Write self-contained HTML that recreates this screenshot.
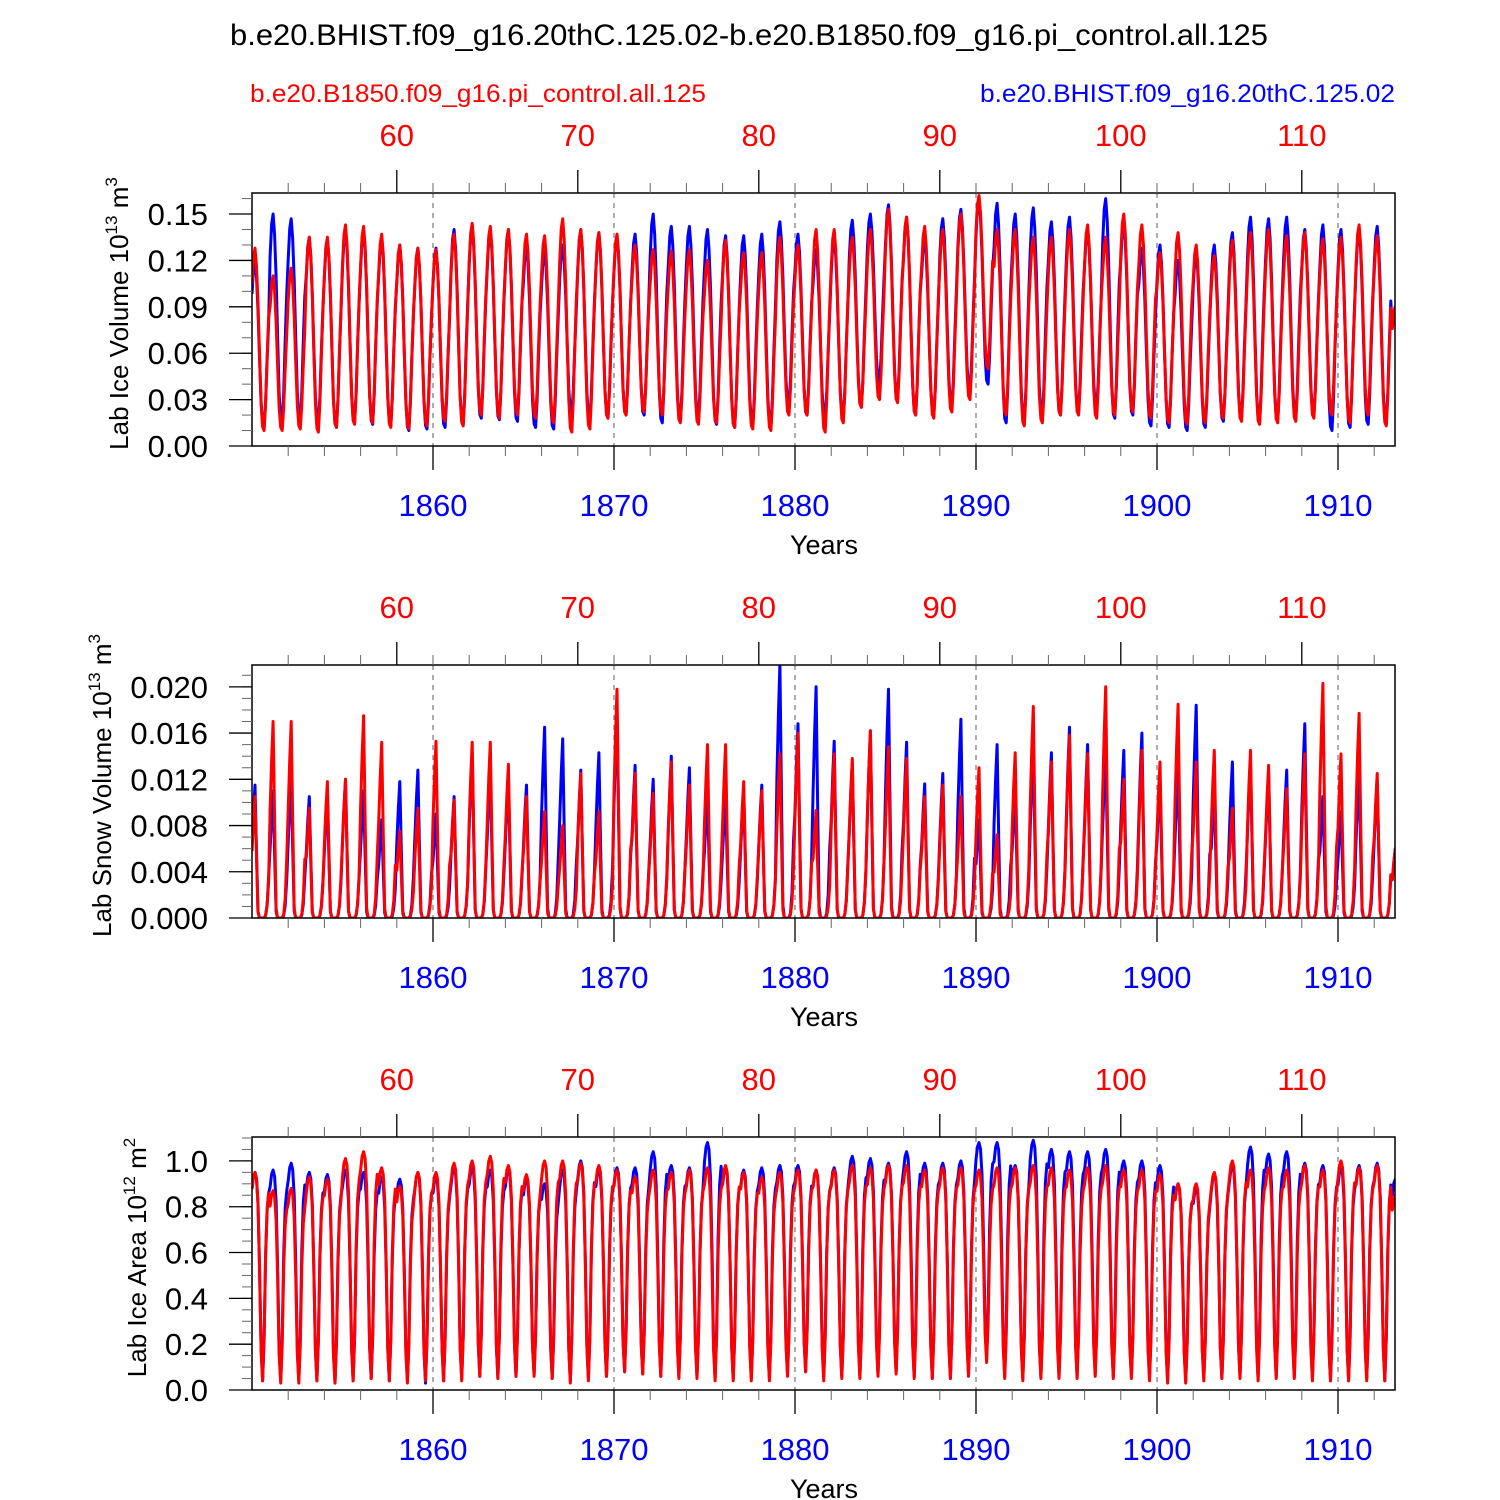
<!DOCTYPE html>
<html><head><meta charset="utf-8">
<style>
html,body{margin:0;padding:0;background:#fff;}
svg{display:block;font-family:"Liberation Sans",Arial,sans-serif;}
</style></head>
<body>
<svg id="chart" width="1500" height="1500" viewBox="0 0 1500 1500" xmlns="http://www.w3.org/2000/svg">
<text x="230" y="45" font-size="30" textLength="1038" lengthAdjust="spacingAndGlyphs">b.e20.BHIST.f09_g16.20thC.125.02-b.e20.B1850.f09_g16.pi_control.all.125</text>
<text x="250" y="102" font-size="25" fill="#ff0000" textLength="456" lengthAdjust="spacingAndGlyphs">b.e20.B1850.f09_g16.pi_control.all.125</text>
<text x="980" y="102" font-size="25" fill="#0000ff" textLength="415" lengthAdjust="spacingAndGlyphs">b.e20.BHIST.f09_g16.20thC.125.02</text>
<g id="panels"></g>
</svg>
<script>
// ----- data: years, per-year seasonal peak/trough -----
const years = [];
for (let y = 1850; y <= 1913; y++) years.push(y);
const bottomTicks = [1860,1870,1880,1890,1900,1910];
const topTicks = [60,70,80,90,100,110];

const iceBluePeak = [0.12,0.15,0.147,0.135,0.134,0.14,0.14,0.135,0.13,0.128,0.128,0.14,0.142,0.14,0.14,0.13,0.127,0.13,0.14,0.138,0.136,0.137,0.15,0.142,0.142,0.14,0.136,0.136,0.137,0.145,0.137,0.127,0.135,0.146,0.15,0.156,0.148,0.135,0.147,0.153,0.16,0.157,0.15,0.154,0.145,0.148,0.14,0.16,0.145,0.128,0.13,0.12,0.125,0.13,0.138,0.148,0.147,0.148,0.14,0.143,0.14,0.14,0.142,0.09];
const iceBlueLow = [0.012,0.014,0.015,0.014,0.012,0.015,0.014,0.013,0.01,0.011,0.012,0.014,0.018,0.017,0.016,0.012,0.011,0.02,0.016,0.018,0.02,0.02,0.015,0.016,0.017,0.014,0.012,0.013,0.012,0.025,0.02,0.018,0.018,0.025,0.04,0.03,0.02,0.02,0.025,0.035,0.04,0.015,0.015,0.018,0.02,0.022,0.024,0.018,0.02,0.013,0.012,0.01,0.012,0.016,0.018,0.015,0.016,0.018,0.02,0.01,0.012,0.014,0.015,0.02];
const iceRedPeak = [0.128,0.11,0.115,0.135,0.135,0.143,0.142,0.137,0.13,0.128,0.127,0.137,0.144,0.142,0.14,0.137,0.136,0.147,0.14,0.138,0.137,0.13,0.127,0.126,0.127,0.12,0.133,0.125,0.125,0.135,0.13,0.14,0.14,0.135,0.14,0.153,0.148,0.142,0.14,0.15,0.162,0.14,0.14,0.135,0.135,0.14,0.143,0.135,0.15,0.143,0.125,0.138,0.13,0.123,0.133,0.138,0.14,0.136,0.138,0.134,0.135,0.143,0.136,0.09];
const iceRedLow = [0.01,0.01,0.011,0.009,0.012,0.014,0.015,0.012,0.011,0.013,0.016,0.013,0.02,0.018,0.02,0.018,0.015,0.009,0.011,0.018,0.02,0.022,0.02,0.015,0.014,0.015,0.012,0.011,0.01,0.02,0.02,0.009,0.015,0.025,0.03,0.028,0.02,0.018,0.022,0.03,0.05,0.02,0.013,0.015,0.02,0.02,0.018,0.02,0.022,0.018,0.015,0.014,0.015,0.018,0.016,0.014,0.015,0.016,0.018,0.02,0.015,0.02,0.013,0.02];

const snowBluePeak = [0.0115,0.011,0.012,0.0105,0.0105,0.012,0.011,0.0085,0.0118,0.0128,0.009,0.0105,0.0143,0.0128,0.012,0.0115,0.0165,0.0155,0.0128,0.0143,0.0178,0.0132,0.012,0.014,0.013,0.0105,0.0105,0.0108,0.0115,0.022,0.0168,0.02,0.0153,0.0135,0.0162,0.0198,0.0152,0.0116,0.0125,0.0172,0.0085,0.015,0.0108,0.0145,0.0143,0.0165,0.015,0.0145,0.0145,0.016,0.012,0.0128,0.0184,0.011,0.0135,0.0135,0.0125,0.0128,0.0168,0.0105,0.0092,0.0125,0.012,0.006];
const snowRedPeak = [0.0105,0.017,0.017,0.0095,0.0118,0.012,0.0175,0.0152,0.0075,0.0095,0.0153,0.0102,0.0152,0.0152,0.0133,0.0105,0.0092,0.008,0.0125,0.0092,0.0198,0.0125,0.0108,0.0135,0.0115,0.015,0.015,0.0118,0.011,0.0142,0.016,0.0093,0.0142,0.0138,0.0162,0.0148,0.0138,0.0105,0.0115,0.0105,0.013,0.0072,0.0143,0.0183,0.0135,0.0158,0.0142,0.02,0.012,0.0145,0.0135,0.0185,0.0135,0.0145,0.0095,0.0145,0.0132,0.0112,0.0142,0.0203,0.0142,0.0177,0.0125,0.006];

const areaBluePeak = [0.95,0.96,0.99,0.95,0.94,0.96,0.95,0.93,0.92,0.95,0.93,0.97,0.97,0.96,0.96,0.92,0.9,0.96,1.0,0.96,0.97,0.97,1.04,0.98,0.97,1.08,0.97,0.96,0.97,0.98,0.98,0.96,0.97,1.02,1.01,0.99,1.04,0.99,0.99,1.0,1.08,1.08,0.98,1.09,1.05,1.04,1.04,1.05,1.0,1.0,0.98,0.9,0.88,0.94,0.98,1.06,1.03,1.04,0.99,0.98,0.97,0.98,0.99,0.92];
const areaBlueLow = [0.04,0.04,0.04,0.04,0.03,0.04,0.05,0.04,0.04,0.03,0.04,0.05,0.06,0.05,0.06,0.07,0.05,0.04,0.05,0.06,0.08,0.07,0.06,0.06,0.06,0.05,0.05,0.05,0.05,0.07,0.08,0.06,0.06,0.06,0.07,0.08,0.06,0.05,0.05,0.07,0.15,0.06,0.05,0.06,0.06,0.06,0.07,0.06,0.06,0.05,0.04,0.04,0.05,0.05,0.06,0.05,0.06,0.06,0.05,0.04,0.04,0.05,0.04,0.05];
const areaRedPeak = [0.95,0.87,0.88,0.93,0.92,1.01,1.04,0.97,0.89,0.95,0.95,0.99,1.0,1.02,0.98,0.94,1.0,1.0,0.99,0.98,0.96,0.93,0.96,0.95,0.96,0.97,0.98,0.95,0.93,0.95,0.96,0.96,0.96,0.98,0.97,0.98,0.98,0.96,0.97,0.97,0.96,0.97,0.97,0.98,0.97,0.96,0.97,0.98,0.96,0.96,0.94,0.9,0.9,0.95,1.0,0.96,0.97,0.96,0.98,0.96,1.0,0.97,0.98,0.85];
const areaRedLow = [0.04,0.03,0.03,0.04,0.03,0.04,0.05,0.04,0.03,0.04,0.04,0.04,0.06,0.05,0.06,0.06,0.05,0.03,0.04,0.06,0.08,0.07,0.06,0.05,0.05,0.04,0.04,0.04,0.04,0.06,0.08,0.04,0.05,0.05,0.06,0.07,0.05,0.05,0.05,0.06,0.12,0.05,0.04,0.05,0.05,0.05,0.06,0.05,0.05,0.04,0.03,0.03,0.04,0.05,0.05,0.04,0.05,0.05,0.04,0.04,0.04,0.04,0.04,0.04];

// seasonal shapes (fraction between trough and peak, Jan..Dec)
const iceShape  = [0.8,0.95,1.0,0.9,0.7,0.42,0.15,0.02,0.0,0.15,0.4,0.62];
const snowShape = [0.55,0.8,1.0,0.5,0.05,0,0,0,0,0.02,0.1,0.3];
const areaShape = [0.92,0.98,1.0,0.97,0.85,0.55,0.15,0.0,0.2,0.6,0.82,0.9];

const NS = "http://www.w3.org/2000/svg";
const X0 = 252, X1 = 1395, YR0 = 1850.0, PXY = 18.1;
function xs(t){ return X0 + (t - YR0) * PXY; }

const panels = [
  {top:193, ymax:0.1636, major:[0,0.03,0.06,0.09,0.12,0.15], minorStep:0.01, dec:2, label:"Lab Ice Volume 10", sup:"13", unit:" m", usup:"3", lx:128,
   series:[{peak:iceBluePeak,low:iceBlueLow,shape:iceShape,color:"#0000ff",name:"blue"},{peak:iceRedPeak,low:iceRedLow,shape:iceShape,color:"#ff0000",name:"red"}], nm:"ice-volume"},
  {top:665, ymax:0.02189, major:[0,0.004,0.008,0.012,0.016,0.020], minorStep:0.001, dec:3, label:"Lab Snow Volume 10", sup:"13", unit:" m", usup:"3", lx:111,
   series:[{peak:snowBluePeak,low:null,shape:snowShape,color:"#0000ff",name:"blue"},{peak:snowRedPeak,low:null,shape:snowShape,color:"#ff0000",name:"red"}], nm:"snow-volume"},
  {top:1137, ymax:1.1043, major:[0,0.2,0.4,0.6,0.8,1.0], minorStep:0.05, dec:1, label:"Lab Ice Area 10", sup:"12", unit:" m", usup:"2", lx:146,
   series:[{peak:areaBluePeak,low:areaBlueLow,shape:areaShape,color:"#0000ff",name:"blue"},{peak:areaRedPeak,low:areaRedLow,shape:areaShape,color:"#ff0000",name:"red"}], nm:"ice-area"}
];
const H = 253;
const root = document.getElementById("panels");
function mk(tag, attrs, parent){
  const e = document.createElementNS(NS, tag);
  for (const k in attrs) e.setAttribute(k, attrs[k]);
  (parent||root).appendChild(e);
  return e;
}
panels.forEach((p, pi) => {
  const top = p.top, bot = top + H;
  const ys = v => bot - v / p.ymax * H;
  const g = mk("g", {});
  
  
  const cid = "clip" + pi;
  const cp = mk("clipPath", {id: cid}, g);
  mk("rect", {x: X0, y: top, width: X1 - X0, height: H}, cp);
  bottomTicks.forEach(t => {
    const l = mk("line", {x1: xs(t), x2: xs(t), y1: top, y2: bot, stroke: "#777", "stroke-width": 1.2, "stroke-dasharray": "5,5"}, g);
    
    
  });
  p.series.forEach(s => {
    let d = "";
    years.forEach((yr, i) => {
      const lo = s.low ? s.low[i] : 0;
      for (let m = 0; m < 12; m++) {
        const t = yr + m / 12;
        if (t > 1913.25) break;
        const v = lo + (s.peak[i] - lo) * s.shape[m];
        d += (d ? "L" : "M") + xs(t).toFixed(1) + "," + ys(v).toFixed(1);
      }
    });
    const path = mk("path", {d: d, fill: "none", stroke: s.color, "stroke-width": 3, "stroke-linejoin": "round", "clip-path": "url(#" + cid + ")"}, g);
    
    
  });
  const fr = mk("rect", {x: X0, y: top, width: X1 - X0, height: H, fill: "none", stroke: "#000", "stroke-width": 1.5}, g);
  
  
  for (let v = 0; v <= p.ymax + 1e-9; v += p.minorStep) {
    mk("line", {x1: X0 - 10, x2: X0, y1: ys(v), y2: ys(v), stroke: "#666", "stroke-width": 1}, g);
  }
  p.major.forEach(v => {
    mk("line", {x1: X0 - 23, x2: X0, y1: ys(v), y2: ys(v), stroke: "#000", "stroke-width": 1.3}, g);
    const t = mk("text", {x: 208, y: ys(v) + 11, "font-size": 31, "text-anchor": "end"}, g);
    t.textContent = v.toFixed(p.dec);
    
    
  });
  for (let yr = 1852; yr <= 1912; yr += 2) {
    const major = yr % 10 === 0;
    mk("line", {x1: xs(yr), x2: xs(yr), y1: bot, y2: bot + (major ? 24 : 10), stroke: major ? "#000" : "#666", "stroke-width": major ? 1.3 : 1}, g);
  }
  for (let r = 54; r <= 114; r += 2) {
    const yr = r + 1798;
    const major = r % 10 === 0;
    mk("line", {x1: xs(yr), x2: xs(yr), y1: top, y2: top - (major ? 23 : 10), stroke: major ? "#000" : "#666", "stroke-width": major ? 1.3 : 1}, g);
  }
  bottomTicks.forEach(yr => {
    const t = mk("text", {x: xs(yr), y: bot + 70, "font-size": 31, fill: "#0000ff", "text-anchor": "middle"}, g);
    t.textContent = yr;
    
    
  });
  topTicks.forEach(r => {
    const t = mk("text", {x: xs(r + 1798), y: top - 47, "font-size": 31, fill: "#ff0000", "text-anchor": "middle"}, g);
    t.textContent = r;
    
    
  });
  const xt = mk("text", {x: 824, y: bot + 108, "font-size": 27, "text-anchor": "middle"}, g);
  xt.textContent = "Years";
  
  
  const yt = mk("text", {transform: "translate(" + p.lx + "," + ((top + bot) / 2 - 6) + ") rotate(-90)", "font-size": 26, "text-anchor": "middle"}, g);
  
  
  const a = document.createElementNS(NS, "tspan"); a.textContent = p.label; yt.appendChild(a);
  const b = document.createElementNS(NS, "tspan"); b.setAttribute("dy", "-11"); b.setAttribute("font-size", "17"); b.textContent = p.sup; yt.appendChild(b);
  const c = document.createElementNS(NS, "tspan"); c.setAttribute("dy", "11"); c.textContent = p.unit; yt.appendChild(c);
  const d2 = document.createElementNS(NS, "tspan"); d2.setAttribute("dy", "-11"); d2.setAttribute("font-size", "17"); d2.textContent = p.usup; yt.appendChild(d2);
});
</script>
</body></html>
